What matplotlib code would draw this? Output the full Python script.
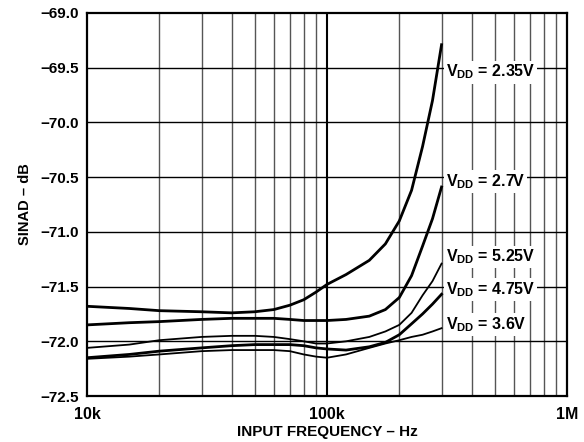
import numpy as np
import matplotlib.pyplot as plt
from matplotlib.ticker import FixedLocator, NullFormatter

plt.rcParams['font.family'] = ['Liberation Sans', 'DejaVu Sans']
plt.rcParams['mathtext.fontset'] = 'custom'
plt.rcParams['mathtext.rm'] = 'Liberation Sans'
plt.rcParams['mathtext.bf'] = 'Liberation Sans:bold'

# frequencia de entrada (Hz)
freq = np.array([10, 15, 20, 30, 40, 50, 60, 70, 80, 90, 100,
                 120, 150, 175, 200, 225, 250, 275, 300]) * 1e3

# SINAD (dB) para cada VDD
sinad_235 = [-71.68, -71.70, -71.72, -71.73, -71.74, -71.73, -71.71, -71.67, -71.62, -71.55, -71.48,
             -71.39, -71.26, -71.11, -70.90, -70.62, -70.22, -69.80, -69.29]
sinad_27 = [-71.85, -71.83, -71.82, -71.80, -71.79, -71.79, -71.79, -71.80, -71.81, -71.81, -71.81,
            -71.80, -71.77, -71.71, -71.60, -71.40, -71.13, -70.88, -70.59]
sinad_525 = [-72.06, -72.03, -71.99, -71.96, -71.95, -71.95, -71.96, -71.98, -72.00, -72.02, -72.02,
             -72.00, -71.96, -71.91, -71.85, -71.74, -71.58, -71.45, -71.29]
sinad_475 = [-72.15, -72.12, -72.09, -72.06, -72.04, -72.03, -72.03, -72.03, -72.04, -72.06, -72.07,
             -72.08, -72.05, -72.01, -71.94, -71.84, -71.75, -71.66, -71.57]
sinad_36 = [-72.16, -72.14, -72.12, -72.09, -72.08, -72.08, -72.08, -72.09, -72.12, -72.14, -72.15,
            -72.12, -72.06, -72.02, -71.99, -71.96, -71.94, -71.91, -71.88]

etiquetas = ["2.35V", "2.7V", "5.25V", "4.75V", "3.6V"]
series = [sinad_235, sinad_27, sinad_525, sinad_475, sinad_36]
anchos = [2.0, 2.0, 1.3, 2.0, 1.3]
pos_etiqueta = [-69.54, -70.54, -71.23, -71.53, -71.85]

fig = plt.figure(figsize=(5.84, 4.42), dpi=100)
ax = fig.add_axes([0.149, 0.104, 0.822, 0.8666])
ax.set_xscale('log')
ax.set_xlim(1e4, 1e6)
ax.set_ylim(-72.5, -69.0)

# rejilla
menores = [k * 1e4 for k in range(2, 10)] + [k * 1e5 for k in range(2, 10)]
for xv in menores:
    ax.axvline(xv, color='#555555', lw=1.0, zorder=1)
ax.axvline(1e5, color='black', lw=1.5, zorder=1)
for yv in np.arange(-72.0, -69.0, 0.5):
    ax.axhline(yv, color='black', lw=1.0, zorder=1)

for s, w in zip(series, anchos):
    ax.plot(freq, s, color='black', lw=w, zorder=3)

for et, yv in zip(etiquetas, pos_etiqueta):
    ax.text(3.12e5, yv, r"$\mathbf{V_{DD}}$ = " + et, fontsize=11.5, fontweight='bold',
            va='center', ha='left', zorder=4,
            bbox=dict(facecolor='white', edgecolor='none', pad=1.5))

ax.xaxis.set_major_locator(FixedLocator([1e4, 1e5, 1e6]))
ax.xaxis.set_minor_locator(FixedLocator(menores))
ax.xaxis.set_minor_formatter(NullFormatter())
ax.set_xticklabels(["10k", "100k", "1M"], fontweight='bold', fontsize=11.5)
ax.set_yticks(np.arange(-72.5, -68.99, 0.5))
ax.set_yticklabels([f"{v:.1f}".replace("-", "\u2212") for v in np.arange(-72.5, -68.99, 0.5)],
                   fontweight='bold', fontsize=11)
ax.tick_params(axis='y', which='both', length=0, pad=6)
ax.tick_params(axis='x', which='both', length=0, pad=8)

for sp in ax.spines.values():
    sp.set_linewidth(1.6)
    sp.set_zorder(5)

ax.set_xlabel("INPUT FREQUENCY \u2013 Hz", fontweight='bold', fontsize=11, labelpad=2)
ax.set_ylabel("SINAD \u2013 dB", fontweight='bold', fontsize=10.5, labelpad=6)

fig.savefig("out.png", dpi=100)
